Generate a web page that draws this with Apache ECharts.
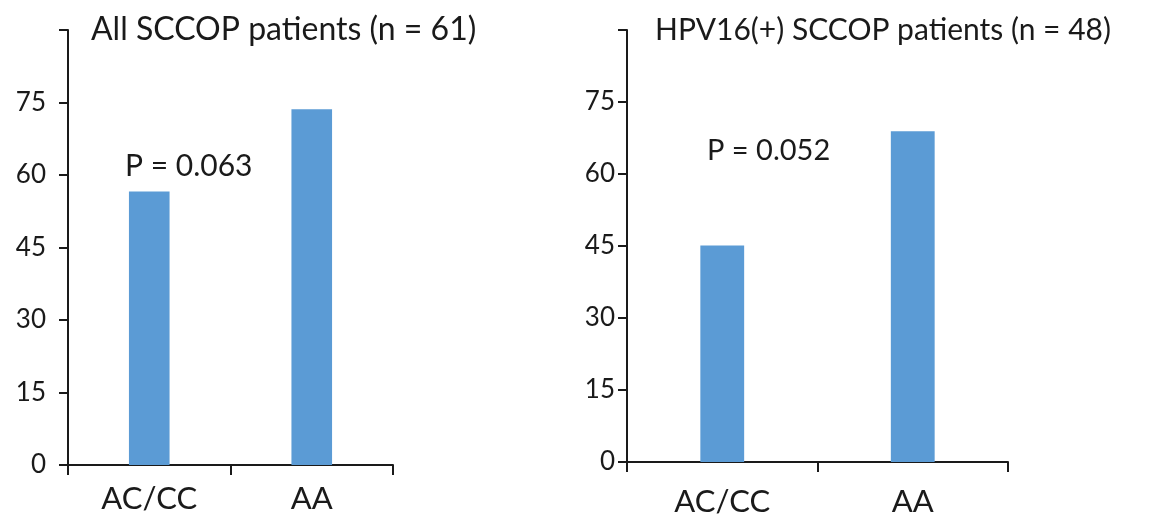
<!DOCTYPE html>
<html>
<head>
<meta charset="utf-8">
<script src="https://cdn.jsdelivr.net/npm/echarts@6/dist/echarts.min.js"></script>
<style>
  html, body { margin: 0; padding: 0; background: #fff; }
  #container { width: 1168px; height: 521px; }
</style>
</head>
<body>
<div id="container"></div>
<script>
// data
var categories = ['AC/CC', 'AA'];
var allValues = [56.6, 73.6];
var hpvValues = [45.1, 68.9];
var panelTitles = ['All SCCOP patients (n = 61)', 'HPV16(+) SCCOP patients (n = 48)'];
var pValues = ['P = 0.063', 'P = 0.052'];
var yMin = 0, yMax = 90, yStep = 15;

var FONT = 'Lato';
var INK = '#1a1a1a';
var BAR = '#5b9bd5';

function yAxisFor(idx, margin) {
    return {
        gridIndex: idx,
        type: 'value',
        min: yMin,
        max: yMax,
        interval: yStep,
        axisLine: { show: true, lineStyle: { color: INK, width: 2 } },
        axisTick: { show: true, length: 9, lineStyle: { color: INK, width: 2 } },
        splitLine: { show: false },
        axisLabel: {
            margin: margin,
            color: INK,
            fontFamily: FONT,
            fontSize: 26,
            formatter: function (v) { return v === yMax ? '' : v; }
        }
    };
}

function xAxisFor(idx, margin) {
    return {
        gridIndex: idx,
        type: 'category',
        data: categories,
        axisLine: { show: true, lineStyle: { color: INK, width: 2 } },
        axisTick: { show: true, length: 10, lineStyle: { color: INK, width: 2 } },
        axisLabel: { margin: margin, color: INK, fontFamily: FONT, fontSize: 31 }
    };
}

var dom = document.getElementById('container');
var myChart = echarts.init(dom, null, { renderer: 'canvas' });

var option = {
    animation: false,
    backgroundColor: '#fff',
    title: [
        { text: panelTitles[0], left: 86, top: 9,
          textStyle: { fontFamily: FONT, fontSize: 32, fontWeight: 'normal', color: INK } },
        { text: panelTitles[1], left: 650, top: 10,
          textStyle: { fontFamily: FONT, fontSize: 30, fontWeight: 'normal', color: INK } }
    ],
    grid: [
        { left: 68, top: 30, width: 325, height: 435 },
        { left: 627, top: 30, width: 381, height: 432 }
    ],
    xAxis: [xAxisFor(0, 18), xAxisFor(1, 24)],
    yAxis: [yAxisFor(0, 22), yAxisFor(1, 12)],
    graphic: [
        { type: 'text', left: 125, top: 151,
          style: { text: pValues[0], fontFamily: FONT, fontSize: 30, fill: INK } },
        { type: 'text', left: 707, top: 136,
          style: { text: pValues[1], fontFamily: FONT, fontSize: 29, fill: INK } }
    ],
    series: [
        { type: 'bar', xAxisIndex: 0, yAxisIndex: 0, data: allValues,
          barWidth: '25%', itemStyle: { color: BAR } },
        { type: 'bar', xAxisIndex: 1, yAxisIndex: 1, data: hpvValues,
          barWidth: '23%', itemStyle: { color: BAR } }
    ]
};
myChart.setOption(option, true);
</script>
</body>
</html>
